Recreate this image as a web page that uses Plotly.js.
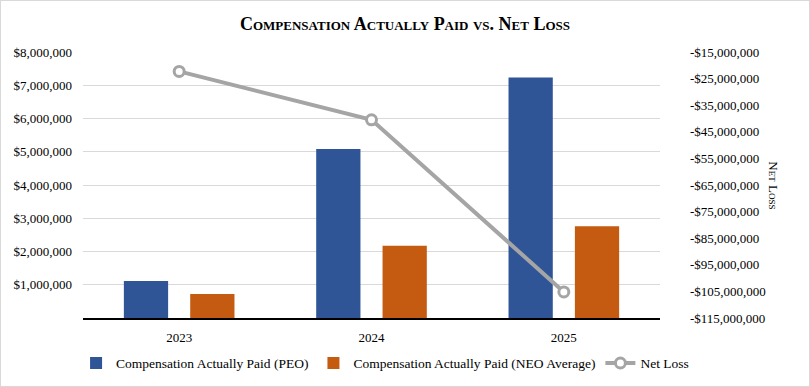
<!DOCTYPE html>
<html>
<head>
<meta charset="utf-8">
<script src="https://cdn.plot.ly/plotly-3.0.1.min.js"></script>
<style>
html,body{margin:0;padding:0;background:#fff;}
#chart{width:808px;height:385px;border:1px solid #d9d9d9;}
</style>
</head>
<body>
<div id="chart"></div>
<script>
const years = ['2023', '2024', '2025'];
const capPEO = [1110000, 5080000, 7230000];
const capNEO = [720000, 2170000, 2760000];
const netLoss = [-22300000, -40500000, -105200000];

const leftTickVals = [1000000, 2000000, 3000000, 4000000, 5000000, 6000000, 7000000, 8000000];
const leftTickText = ['$1,000,000', '$2,000,000', '$3,000,000', '$4,000,000', '$5,000,000', '$6,000,000', '$7,000,000', '$8,000,000'];
const rightTickVals = [-115000000, -105000000, -95000000, -85000000, -75000000, -65000000, -55000000, -45000000, -35000000, -25000000, -15000000];
const rightTickText = ['-$115,000,000', '-$105,000,000', '-$95,000,000', '-$85,000,000', '-$75,000,000', '-$65,000,000', '-$55,000,000', '-$45,000,000', '-$35,000,000', '-$25,000,000', '-$15,000,000'];
const rightAxisTitle = 'Net Loss';

const serif = "'Liberation Serif', 'Times New Roman', serif";

const data = [
  {type: 'bar', name: 'Compensation Actually Paid (PEO)', x: years, y: capPEO,
   marker: {color: '#2F5597'}, hoverinfo: 'skip'},
  {type: 'bar', name: 'Compensation Actually Paid (NEO Average)', x: years, y: capNEO,
   marker: {color: '#C55A11'}, hoverinfo: 'skip'},
  {type: 'scatter', mode: 'lines+markers', name: 'Net Loss', x: years, y: netLoss, yaxis: 'y2',
   line: {color: '#A5A5A5', width: 4},
   marker: {symbol: 'circle', size: 10, color: '#ffffff', line: {color: '#A5A5A5', width: 3}},
   hoverinfo: 'skip'}
];

const layout = {
  width: 808, height: 385,
  margin: {l: 82, r: 149, t: 51, b: 68, autoexpand: false},
  paper_bgcolor: '#ffffff', plot_bgcolor: '#ffffff',
  font: {family: serif, size: 13, color: '#000000'},
  title: {text: '<b>Compensation Actually Paid vs. Net Loss</b>',
          font: {family: serif, size: 18, color: '#000000', variant: 'small-caps'},
          x: 0.5, xanchor: 'center', y: 0.94, yanchor: 'middle'},
  barmode: 'group', bargap: 0.31, bargroupgap: 0.333,
  showlegend: true,
  legend: {orientation: 'h', x: -0.012, xanchor: 'left',
           y: -0.17, yanchor: 'middle', font: {family: serif, size: 13.5}, traceorder: 'normal'},
  xaxis: {type: 'category', showline: true, linecolor: '#000000', linewidth: 2,
          ticks: '', showgrid: false, zeroline: false, tickfont: {family: serif, size: 13},
          ticklabelstandoff: 6},
  yaxis: {range: [0, 8000000], tickvals: leftTickVals, ticktext: leftTickText,
          showgrid: true, gridcolor: '#D9D9D9', gridwidth: 1, zeroline: false,
          showline: false, ticks: '', ticklabelstandoff: 10, tickfont: {family: serif, size: 13}},
  yaxis2: {overlaying: 'y', side: 'right', range: [-115000000, -15000000],
           tickvals: rightTickVals, ticktext: rightTickText, showgrid: false, zeroline: false,
           showline: false, ticks: '', ticklabelstandoff: 29, tickfont: {family: serif, size: 13}},
  annotations: [
    {text: rightAxisTitle, xref: 'paper', yref: 'paper', x: 1.197, y: 0.5,
     xanchor: 'center', yanchor: 'middle', textangle: 90, showarrow: false,
     font: {family: serif, size: 13, color: '#000000', variant: 'small-caps'}}
  ]
};

Plotly.newPlot('chart', data, layout, {displayModeBar: false, staticPlot: true});
</script>
</body>
</html>
